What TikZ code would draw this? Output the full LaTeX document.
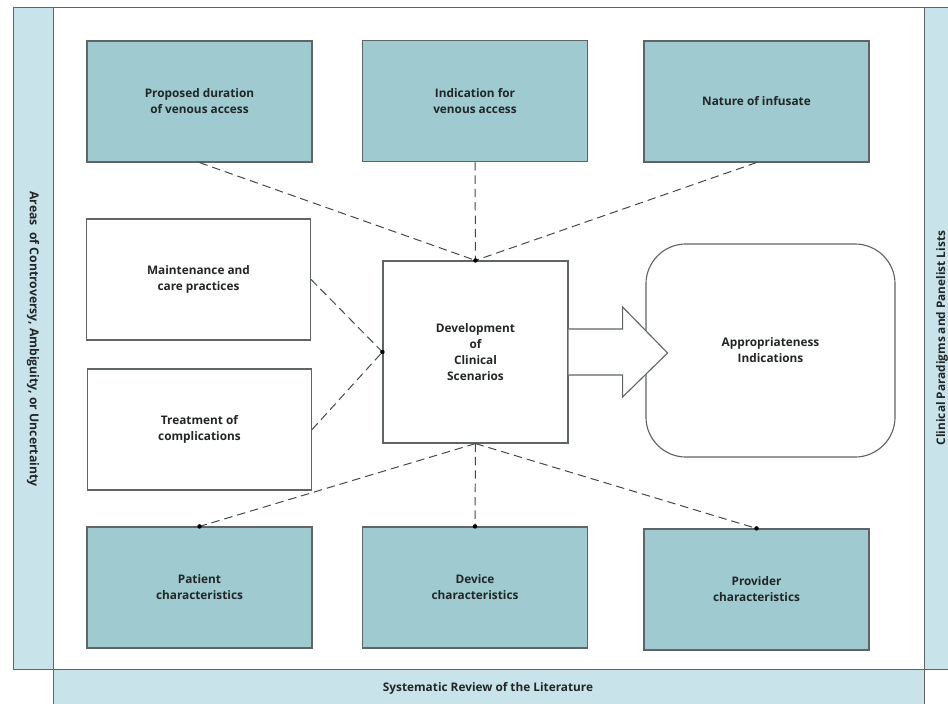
\documentclass[tikz,border=0pt]{standalone}
\usepackage{fontspec}
\setmainfont{Open Sans}
\usetikzlibrary{calc}
\definecolor{stripblue}{HTML}{C8E4EA}
\definecolor{boxteal}{HTML}{9ECAD0}
\definecolor{edgegray}{HTML}{5F6566}
\definecolor{inkdark}{HTML}{222626}
\begin{document}
\begin{tikzpicture}[x=0.025cm,y=-0.025cm,
	every node/.style={font=\fontsize{8.4}{11.3}\selectfont\bfseries, text=inkdark, align=center},
	tealbox/.style={draw=edgegray, line width=0.8pt, fill=boxteal, minimum width=5.625cm, minimum height=3.025cm},
	plainbox/.style={draw=edgegray, line width=0.8pt, fill=white, minimum width=5.6cm, minimum height=3.025cm},
	link/.style={draw=edgegray!70!black, line width=0.7pt, dash pattern=on 6pt off 3.5pt}]
	\useasboundingbox (0,0) rectangle (948,704);

	% outer strips
	\fill[stripblue] (13,7) rectangle (53,669);
	\fill[stripblue] (924,7) rectangle (960,669);
	\fill[stripblue] (53,669) rectangle (924,710);
	\draw[edgegray, line width=0.6pt] (13,7) -- (960,7);
	\draw[edgegray, line width=0.6pt] (13,669) -- (960,669);
	\draw[edgegray, line width=0.6pt] (13,7) -- (13,669);
	\draw[edgegray, line width=0.6pt] (53,7) -- (53,710);
	\draw[edgegray, line width=0.6pt] (924,7) -- (924,710);
	\node[rotate=-90, font=\fontsize{8.7}{11.3}\selectfont\bfseries] (areas) at (33,339) {Areas\ \ of Controversy, Ambiguity, or Uncertainty};
	\node[rotate=90] (lists) at (942,338) {Clinical Paradigms and Panelist Lists};
	\node (review) at (488,688) {Systematic Review of the Literature};

	% top row
	\node[tealbox] (duration) at (199.5,101.5) {Proposed duration\\of venous access};
	\node[tealbox] (indication) at (475,101) {Indication for\\venous access};
	\node[tealbox] (infusate) at (756.5,101.5) {Nature of infusate};

	% left column
	\node[plainbox] (maintenance) at (198.5,279.5) {Maintenance and\\care practices};
	\node[plainbox] (treatment) at (199.5,429.5) {Treatment of\\complications};

	% centre and result
	\node[draw=edgegray, line width=0.8pt, fill=white, minimum width=4.625cm, minimum height=4.55cm] (scenarios) at (475.5,352) {Development\\of\\Clinical\\Scenarios};
	\node[draw=edgegray, line width=0.8pt, rounded corners=1cm, minimum width=6.225cm, minimum height=5.325cm] (indications) at (770.5,350.5) {Appropriateness\\Indications};
	\draw[edgegray, line width=0.8pt, fill=white] ([yshift=0.575cm]scenarios.east) -- ++(54,0) -- ++(0,-22) -- ++(45,46) -- ++(-45,44) -- ++(0,-22) -- ++(-54,0);

	% bottom row
	\node[tealbox] (patient) at (199.5,587.5) {Patient\\characteristics};
	\node[tealbox] (device) at (475,587.5) {Device\\characteristics};
	\node[tealbox] (provider) at (756.5,589.5) {Provider\\characteristics};

	% dashed links
	\draw[link] (duration.south) -- (scenarios.north);
	\draw[link] (indication.south) -- (scenarios.north);
	\draw[link] (infusate.south) -- (scenarios.north);
	\draw[link] (maintenance.east) -- (scenarios.west);
	\draw[link] (treatment.east) -- (scenarios.west);
	\draw[link] (scenarios.south) -- (patient.north);
	\draw[link] (scenarios.south) -- (device.north);
	\draw[link] (scenarios.south) -- (provider.north);
	\foreach \p in {scenarios.north, scenarios.west, patient.north, device.north, provider.north}
		\fill[black] (\p) circle[radius=1.6pt];
\end{tikzpicture}
\end{document}
